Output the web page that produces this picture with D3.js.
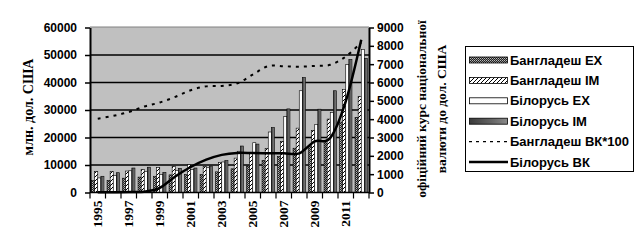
<!DOCTYPE html>
<html>
<head>
<meta charset="utf-8">
<script src="https://cdn.jsdelivr.net/npm/d3@7"></script>
<style>
  body { margin: 0; background: #fff; }
  svg text { fill: #000; }
  .axisLabel { font-family: Arial, "Liberation Sans", sans-serif; font-weight: bold; font-size: 12px; }
  .serif { font-family: "Times New Roman", "Liberation Serif", serif; font-weight: bold; }
</style>
</head>
<body>
<script>
//Width and height
var w = 643;
var h = 249;

//Data
var years = [1995, 1996, 1997, 1998, 1999, 2000, 2001, 2002, 2003, 2004, 2005, 2006, 2007, 2008, 2009, 2010, 2011, 2012];
var bdEx = [4300, 4400, 5200, 5600, 5900, 6400, 6500, 6500, 7500, 8600, 9600, 11700, 13100, 16100, 16800, 18600, 25600, 27300];
var bdIm = [7600, 7700, 7800, 8300, 9100, 9400, 10100, 9400, 10900, 12500, 14300, 16000, 18600, 23400, 22600, 26700, 37500, 34900];
var byEx = [5300, 6200, 7900, 7700, 6600, 8000, 8300, 9000, 11100, 15000, 18100, 22000, 27600, 37000, 24800, 29100, 46500, 52000];
var byIm = [5900, 7200, 8900, 9200, 7300, 8800, 8900, 9600, 11600, 16900, 17600, 23600, 30400, 41800, 30300, 37000, 48400, 48800];
var bdRate = [4028, 4179, 4389, 4691, 4909, 5214, 5581, 5789, 5815, 5951, 6433, 6893, 6887, 6860, 6904, 6965, 7415, 8186];
var byRate = [12, 13, 26, 46, 249, 877, 1390, 1791, 2051, 2160, 2154, 2145, 2146, 2136, 2793, 2979, 4975, 8337];
var yearLabels = [1995, 1997, 1999, 2001, 2003, 2005, 2007, 2009, 2011];
var leftTicks = [0, 10000, 20000, 30000, 40000, 50000, 60000];
var rightTicks = [0, 1000, 2000, 3000, 4000, 5000, 6000, 7000, 8000, 9000];
var seriesNames = ["Бангладеш EX", "Бангладеш IM", "Білорусь EX", "Білорусь IM"];
var lineNames = ["Бангладеш ВК*100", "Білорусь ВК"];

var plot = { left: 90, right: 369, top: 27, bottom: 192.5 };

var svg = d3.select("body").append("svg").attr("width", w).attr("height", h);

//Patterns and gradient
var defs = svg.append("defs");
var chk = defs.append("pattern").attr("id", "chk").attr("patternUnits", "userSpaceOnUse")
  .attr("width", 2).attr("height", 2);
chk.append("rect").attr("width", 2).attr("height", 2).attr("fill", "#222");
chk.append("rect").attr("width", 1).attr("height", 1).attr("fill", "#bbb");
chk.append("rect").attr("x", 1).attr("y", 1).attr("width", 1).attr("height", 1).attr("fill", "#888");

var hatch = defs.append("pattern").attr("id", "hatch").attr("patternUnits", "userSpaceOnUse")
  .attr("width", 4).attr("height", 4);
hatch.append("rect").attr("width", 4).attr("height", 4).attr("fill", "#fff");
hatch.append("path").attr("d", "M-1,5 L5,-1 M-1,1 L1,-1 M3,5 L5,3").attr("stroke", "#000").attr("stroke-width", 1);

var grad = defs.append("linearGradient").attr("id", "grad").attr("x1", "0%").attr("x2", "100%");
grad.append("stop").attr("offset", "0%").attr("stop-color", "#3a3a3a");
grad.append("stop").attr("offset", "60%").attr("stop-color", "#666");
grad.append("stop").attr("offset", "100%").attr("stop-color", "#8a8a8a");

var fills = ["url(#chk)", "url(#hatch)", "#fff", "url(#grad)"];

//Scales
var xScale = d3.scaleBand().domain(years).range([plot.left, plot.right]).paddingInner(0.2).paddingOuter(0.1);
var xSub = d3.scaleBand().domain(d3.range(4)).range([0, xScale.bandwidth()]).padding(0);
var yScale = d3.scaleLinear().domain([0, 60000]).range([plot.bottom, plot.top + 0.5]);
var y2Scale = d3.scaleLinear().domain([0, 9000]).range([plot.bottom, plot.top + 0.5]);
var catX = function (i) { return xScale(years[i]) + xScale.bandwidth() / 2; };

//Plot background
svg.append("rect").attr("x", plot.left).attr("y", plot.top)
  .attr("width", plot.right - plot.left).attr("height", plot.bottom - plot.top)
  .attr("fill", "#c0c0c0");
svg.append("line").attr("x1", plot.left).attr("x2", plot.right)
  .attr("y1", plot.top).attr("y2", plot.top).attr("stroke", "#808080");

//Gridlines
svg.selectAll(".grid").data(leftTicks.slice(1, -1)).enter().append("line")
  .attr("x1", plot.left).attr("x2", plot.right)
  .attr("y1", function (d) { return yScale(d); })
  .attr("y2", function (d) { return yScale(d); })
  .attr("stroke", "#000").attr("stroke-width", 1.5);

//Bars
var data = [bdEx, bdIm, byEx, byIm];
data.forEach(function (vals, s) {
  svg.append("g").selectAll("rect").data(vals).enter().append("rect")
    .attr("x", function (d, i) { return xScale(years[i]) + xSub(s); })
    .attr("y", function (d) { return yScale(d); })
    .attr("width", xSub.bandwidth())
    .attr("height", function (d) { return plot.bottom - yScale(d); })
    .attr("fill", fills[s])
    .attr("stroke", "#000").attr("stroke-width", 0.6);
});

//Lines (right axis)
var line = d3.line()
  .x(function (d, i) { return catX(i); })
  .y(function (d) { return y2Scale(d); })
  .curve(d3.curveCatmullRom.alpha(0));

svg.append("path").datum(bdRate).attr("d", line)
  .attr("fill", "none").attr("stroke", "#000").attr("stroke-width", 2)
  .attr("stroke-dasharray", "3,5");
svg.append("path").datum(byRate).attr("d", line)
  .attr("fill", "none").attr("stroke", "#000").attr("stroke-width", 2.5);

//Axes
var fmt = d3.format("d");
var yAxis = d3.axisLeft(yScale).tickValues(leftTicks).tickFormat(fmt).tickSize(5).tickSizeOuter(0).tickPadding(8);
var gy = svg.append("g").attr("transform", "translate(" + plot.left + ",0)").call(yAxis);
var y2Axis = d3.axisRight(y2Scale).tickValues(rightTicks).tickFormat(fmt).tickSize(5).tickSizeOuter(0).tickPadding(3);
var gy2 = svg.append("g").attr("transform", "translate(" + plot.right + ",0)").call(y2Axis);
[gy, gy2].forEach(function (g) {
  g.select(".domain").attr("stroke-width", 2);
  g.selectAll(".tick line").attr("stroke-width", 1.5);
  g.selectAll(".tick text").attr("class", "axisLabel").attr("font-size", null).attr("font-family", null);
});

//X axis with ticks at category boundaries
svg.append("line").attr("x1", plot.left).attr("x2", plot.right)
  .attr("y1", plot.bottom).attr("y2", plot.bottom).attr("stroke", "#000").attr("stroke-width", 1.5);
svg.selectAll(".xtick").data(d3.range(years.length + 1)).enter().append("line")
  .attr("x1", function (i) { return plot.left + i * xScale.step(); })
  .attr("x2", function (i) { return plot.left + i * xScale.step(); })
  .attr("y1", plot.bottom).attr("y2", plot.bottom + 6)
  .attr("stroke", "#000").attr("stroke-width", 1.2);
svg.selectAll(".xlabel").data(yearLabels).enter().append("text")
  .attr("class", "serif").attr("font-size", 13.5)
  .attr("transform", function (d) {
    return "translate(" + (xScale(d) + xScale.bandwidth() / 2 + 4.5) + "," + (plot.bottom + 8) + ") rotate(-90)";
  })
  .attr("text-anchor", "end")
  .text(function (d) { return d; });

//Axis titles
svg.append("text").attr("class", "serif").attr("font-size", 14)
  .attr("transform", "translate(33,107) rotate(-90)").attr("text-anchor", "middle")
  .text("млн. дол. США");
svg.append("text").attr("class", "serif").attr("font-size", 13.5)
  .attr("transform", "translate(426,109) rotate(-90)").attr("text-anchor", "middle")
  .text("офіційний курс національної");
svg.append("text").attr("class", "serif").attr("font-size", 13.5)
  .attr("transform", "translate(446,109) rotate(-90)").attr("text-anchor", "middle")
  .text("валюти до дол. США");

//Legend
var lg = svg.append("g");
lg.append("rect").attr("x", 465.5).attr("y", 46.5).attr("width", 168).attr("height", 125)
  .attr("fill", "#fff").attr("stroke", "#000");
var legItems = seriesNames.concat(lineNames);
legItems.forEach(function (name, i) {
  var yy = 60 + i * 20.4;
  if (i < 4) {
    lg.append("rect").attr("x", 469.5).attr("y", yy - 3).attr("width", 38).attr("height", 6)
      .attr("fill", fills[i]).attr("stroke", "#000").attr("stroke-width", 0.8);
  } else {
    lg.append("line").attr("x1", 469).attr("x2", 508).attr("y1", yy).attr("y2", yy)
      .attr("stroke", "#000").attr("stroke-width", i === 4 ? 1.2 : 2.5)
      .attr("stroke-dasharray", i === 4 ? "3,4" : null);
  }
  lg.append("text").attr("class", "axisLabel").attr("x", 510).attr("y", yy + 4.5)
    .attr("font-size", 13).style("font-size", "13px").text(name);
});
</script>
</body>
</html>
